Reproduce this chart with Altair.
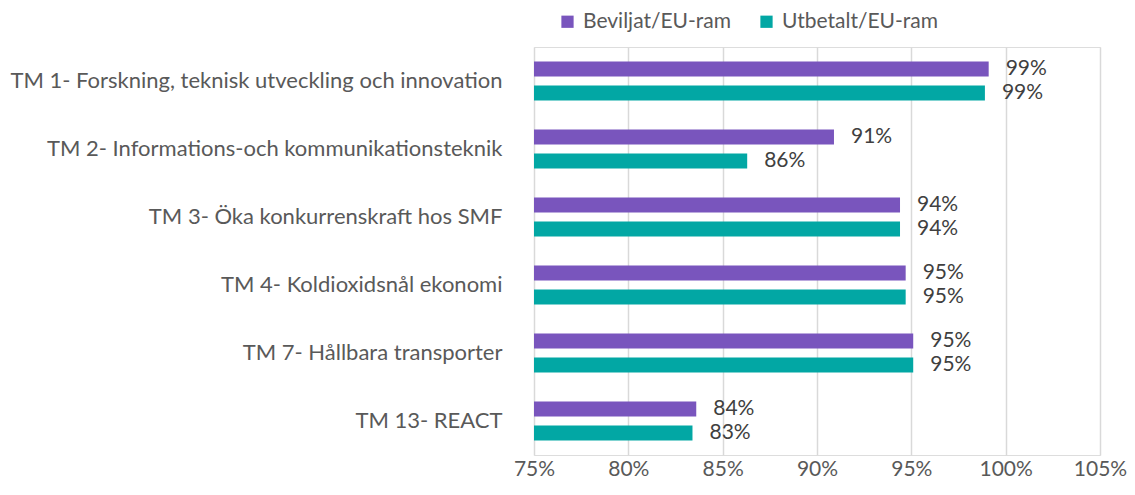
import altair as alt
import pandas as pd

categories = [
    "TM 1- Forskning, teknisk utveckling och innovation",
    "TM 2- Informations-och kommunikationsteknik ",
    "TM 3- Öka konkurrenskraft hos SMF",
    "TM 4- Koldioxidsnål ekonomi",
    "TM 7- Hållbara transporter",
    "TM 13- REACT",
]
series = ["Beviljat/EU-ram", "Utbetalt/EU-ram"]
beviljat = [0.991, 0.909, 0.944, 0.947, 0.951, 0.836]
utbetalt = [0.989, 0.863, 0.944, 0.947, 0.951, 0.834]
colors = ["#7955BD", "#02A7A4"]

rows = []
for i, c in enumerate(categories):
    rows.append({"cat": c, "series": series[0], "value": beviljat[i], "base": 0.75})
    rows.append({"cat": c, "series": series[1], "value": utbetalt[i], "base": 0.75})
df = pd.DataFrame(rows)

FONT = "Lato"
FS = 21

y = alt.Y("cat:N", sort=categories, title=None,
          scale=alt.Scale(paddingInner=0, paddingOuter=0),
          axis=alt.Axis(ticks=False, domain=False, labelPadding=32, labelFontSize=22,
                        labelColor="#595959", labelFont=FONT, labelLimit=600))
yoff = alt.YOffset("series:N", sort=series,
                   scale=alt.Scale(paddingInner=0.375, paddingOuter=0.604))
x = alt.X("value:Q", title=None,
          scale=alt.Scale(domain=[0.75, 1.05], zero=False, nice=False),
          axis=alt.Axis(format=".0%", values=[0.75, 0.8, 0.85, 0.9, 0.95, 1.0, 1.05],
                        ticks=False, domain=False, grid=True, gridColor="#D9D9D9",
                        gridWidth=1.5, labelFontSize=FS, labelColor="#595959",
                        labelFont=FONT, labelPadding=3, labelFlush=False))
color = alt.Color("series:N", sort=series, title=None,
                  scale=alt.Scale(domain=series, range=colors),
                  legend=alt.Legend(orient="none", direction="horizontal",
                                    legendX=23, legendY=-36, symbolType="square",
                                    symbolSize=150, symbolStrokeWidth=0,
                                    labelFontSize=FS, labelColor="#595959",
                                    labelFont=FONT, columnPadding=24, labelOffset=5))

bars = alt.Chart(df).mark_bar(size=15).encode(
    y=y, yOffset=yoff, x=x, x2="base:Q", color=color
)
labels = alt.Chart(df).mark_text(align="left", baseline="middle", dx=17,
                                 fontSize=FS, color="#404040", font=FONT).encode(
    y=alt.Y("cat:N", sort=categories), yOffset=alt.YOffset("series:N", sort=series),
    x="value:Q", text=alt.Text("value:Q", format=".0%")
)

chart = (bars + labels).properties(
    width=566, height=408,
    padding={"left": 526, "top": 39, "right": 27, "bottom": 40},
    autosize=alt.AutoSizeParams(type="none"),
).configure_view(stroke=None).configure(background="white")

chart.save("out.html", embed_options={"renderer": "svg", "actions": False})
